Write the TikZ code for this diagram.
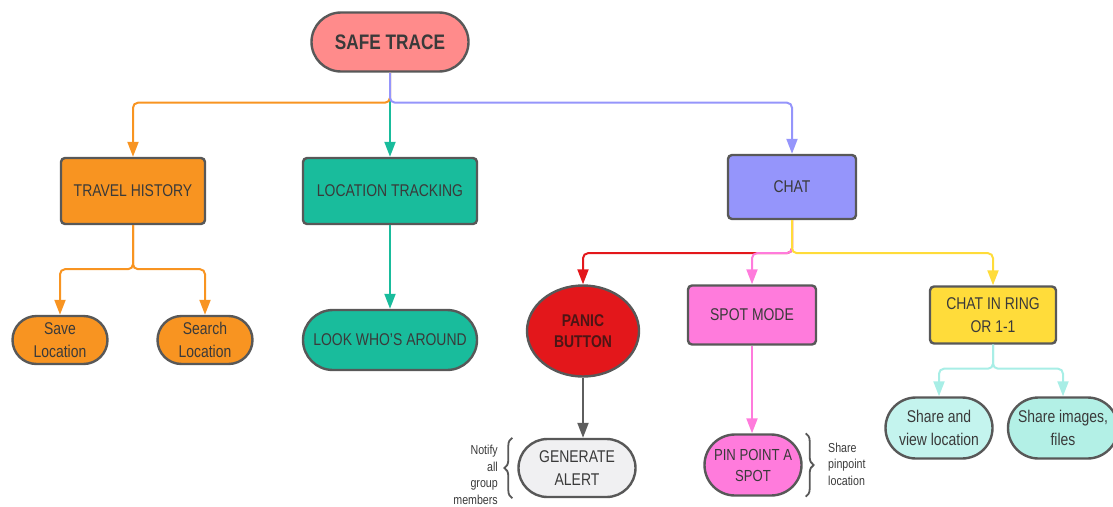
\documentclass[tikz,border=0pt]{standalone}
\usepackage{fontspec}
\setmainfont[FakeStretch=0.82]{Liberation Sans}
\usetikzlibrary{shapes.misc,shapes.geometric,arrows.meta,decorations.pathreplacing}

\definecolor{edgegray}{HTML}{585858}
\definecolor{txt}{HTML}{3A3A3A}
\definecolor{salmon}{HTML}{FF8B8B}
\definecolor{orng}{HTML}{F89421}
\definecolor{tealc}{HTML}{19BC9C}
\definecolor{lav}{HTML}{9595FB}
\definecolor{redc}{HTML}{E3171B}
\definecolor{pinkc}{HTML}{FF7BDC}
\definecolor{yell}{HTML}{FFDC3A}
\definecolor{cyanfill}{HTML}{C4F4EE}
\definecolor{cyanfill2}{HTML}{B3F0E6}
\definecolor{cyanln}{HTML}{A8EEE6}
\definecolor{lightgray}{HTML}{F0F0F2}
\definecolor{linegray}{HTML}{5E5E5E}
\definecolor{maroon}{HTML}{4D1515}

\tikzset{
  base/.style={draw=edgegray, line width=2.4pt, text=txt, align=center, inner sep=0pt,
               font=\fontsize{17}{22.5}\selectfont},
  boxnode/.style={base, rectangle, rounded corners=4pt},
  pill/.style={base, rounded rectangle},
  oval/.style={base, ellipse},
  link/.style={line width=2pt, rounded corners=5pt, -{Triangle[width=11pt,length=15pt]}},
  bracemark/.style={draw=edgegray, line width=1.8pt, decorate,
                    decoration={brace, amplitude=8pt}},
  note/.style={text=txt, inner sep=0pt, font=\fontsize{13}{16.5}\selectfont}
}

\begin{document}
\begin{tikzpicture}[x=1pt,y=-1pt]
\path[use as bounding box] (0,0) rectangle (1113,506);
\clip (0,0) rectangle (1113,506);

% root
\node[pill, fill=salmon, minimum width=157, minimum height=59,
      font=\fontsize{21}{24}\selectfont\bfseries, text=txt] (safe) at (390,42) {SAFE TRACE};

% first level
\node[boxnode, fill=orng, minimum width=144, minimum height=66] (travel) at (133,191) {TRAVEL HISTORY};
\node[boxnode, fill=tealc, minimum width=174, minimum height=66] (loc) at (390,191) {LOCATION TRACKING};
\node[boxnode, fill=lav, minimum width=128, minimum height=64] (chat) at (792,187) {CHAT};

% travel history children
\node[pill, fill=orng, minimum width=95, minimum height=48] (save) at (60,340) {Save\\Location};
\node[pill, fill=orng, minimum width=95, minimum height=48] (search) at (205,340) {Search\\Location};

% location tracking child
\node[pill, fill=tealc, minimum width=174, minimum height=60] (look) at (390,340) {LOOK WHO'S AROUND};

% chat children
\node[oval, fill=redc, minimum width=112, minimum height=91, text=maroon,
      font=\fontsize{17}{20.5}\selectfont\bfseries] (panic) at (583,331) {PANIC\\BUTTON};
\node[boxnode, fill=pinkc, minimum width=128, minimum height=59] (spot) at (752,315) {SPOT MODE};
\node[boxnode, fill=yell, minimum width=126, minimum height=57] (ring) at (993,315) {CHAT IN RING\\OR 1-1};

% third level
\node[pill, fill=lightgray, minimum width=117, minimum height=58] (gen) at (577,468) {GENERATE\\ALERT};
\node[pill, fill=pinkc, minimum width=97, minimum height=61,
      font=\fontsize{16}{21}\selectfont] (pin) at (753,465) {PIN POINT A\\SPOT};
\node[pill, fill=cyanfill, minimum width=107, minimum height=61] (sv) at (939,428) {Share and\\view location};
\node[pill, fill=cyanfill2, minimum width=110, minimum height=61] (si) at (1063,428) {Share images,\\files};

% connectors from the root
\draw[link, tealc] (safe.south) -- (loc.north);
\draw[link, orng] (safe.south) -- ++(0,30) -| (travel.north);
\draw[link, lav] (safe.south) -- ++(0,30) -| (chat.north);

% travel history branches
\draw[link, orng] (travel.south) -- ++(0,44) -| (save.north);
\draw[link, orng] (travel.south) -- ++(0,44) -| (search.north);

% location tracking branch
\draw[link, tealc] (loc.south) -- (look.north);

% chat branches
\draw[link, redc] (chat.south) -- ++(0,33) -| (panic.north);
\draw[link, pinkc] (chat.south) -- ++(0,33) -| (spot.north);
\draw[link, yell] (chat.south) -- ++(0,33) -| (ring.north);

% lower branches
\draw[link, linegray] (panic.south) -- (panic.south |- gen.north);
\draw[link, pinkc] (spot.south) -- (spot.south |- pin.north);
\draw[link, cyanln] (ring.south) -- ++(0,24) -| (sv.north);
\draw[link, cyanln] (ring.south) -- ++(0,24) -| (si.north);

% side notes with braces
\coordinate (gbl) at ([xshift=-5pt]gen.west |- gen.south);
\coordinate (gtl) at ([xshift=-5pt]gen.west |- gen.north);
\draw[bracemark] (gbl) -- (gtl);
\node[note, anchor=east, align=right] (notify) at (498,475) {Notify\\all\\group\\members};

\coordinate (ptr) at ([xshift=3pt]pin.east |- pin.north);
\coordinate (pbr) at ([xshift=3pt]pin.east |- pin.south);
\draw[bracemark] (ptr) -- (pbr);
\node[note, anchor=west, align=left] (sharepin) at (828,464) {Share\\pinpoint\\location};
\end{tikzpicture}
\end{document}
